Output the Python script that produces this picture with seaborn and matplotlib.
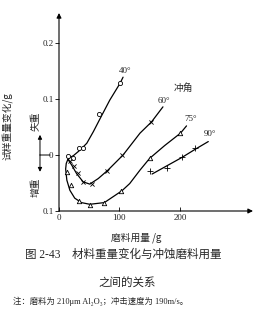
import numpy as np
import pandas as pd
import matplotlib
matplotlib.use('Agg')
import matplotlib.pyplot as plt
import seaborn as sns

# Values (abrasive mass in g, weight change in g)
# hand-drawn curves
curve_40_x = [15, 19, 24, 35, 46, 57, 68, 84, 101, 106]
curve_40_y = [-0.008, -0.004, -0.001, 0.009, 0.021, 0.042, 0.065, 0.098, 0.128, 0.139]
curve_60_x = [15, 21, 29, 40, 51, 65, 81, 106, 134, 153, 172]
curve_60_y = [-0.008, -0.018, -0.033, -0.048, -0.052, -0.042, -0.027, 0.0, 0.039, 0.059, 0.086]
curve_75_x = [15, 12, 11, 13, 18, 26, 37, 51, 75, 104, 117, 134, 150, 175, 201, 211]
curve_75_y = [-0.007, -0.015, -0.025, -0.045, -0.063, -0.077, -0.085, -0.088, -0.085,
              -0.064, -0.051, -0.027, -0.006, 0.017, 0.039, 0.052]
curve_90_x = [154, 179, 204, 225, 247]
curve_90_y = [-0.034, -0.019, -0.004, 0.010, 0.024]

# measured points
pts_40_x = [15, 23, 33, 40, 66, 101]
pts_40_y = [-0.002, -0.005, 0.013, 0.013, 0.074, 0.128]
pts_60_x = [18, 25, 31, 40, 54, 79, 105, 153]
pts_60_y = [-0.011, -0.020, -0.033, -0.048, -0.051, -0.029, 0.0, 0.059]
pts_75_x = [14, 20, 33, 51, 75, 103, 150, 201]
pts_75_y = [-0.030, -0.053, -0.082, -0.089, -0.085, -0.064, -0.005, 0.039]
pts_90_x = [151, 179, 204, 225]
pts_90_y = [-0.028, -0.024, -0.003, 0.012]

angle_labels = ['40°', '60°', '75°', '90°']
label_x = [109, 174, 218, 250]
label_y = [0.150, 0.096, 0.064, 0.038]

y_ticks = [-0.1, 0, 0.1, 0.2]
y_ticklabels = ['0.1', '0', '0.1', '0.2']
x_ticks = [0, 100, 200]

sns.set_theme(style='white')
plt.rcParams['font.family'] = ['Liberation Serif', 'DejaVu Serif', 'Noto Sans CJK SC']
plt.rcParams['axes.unicode_minus'] = False

fig = plt.figure(figsize=(2.8, 3.13), dpi=100)
ax = fig.add_axes([59 / 280, 1 - 211 / 313, 194 / 280, 198 / 313])

curves = [(curve_40_x, curve_40_y), (curve_60_x, curve_60_y),
          (curve_75_x, curve_75_y), (curve_90_x, curve_90_y)]
for cx, cy in curves:
    df = pd.DataFrame({'x': cx, 'y': cy})
    sns.lineplot(data=df, x='x', y='y', sort=False, estimator=None,
                 color='black', lw=0.9, ax=ax)

# markers
sns.scatterplot(x=pts_40_x, y=pts_40_y, marker='o', s=9, facecolor='white',
                edgecolor='black', linewidth=0.6, ax=ax, zorder=3)
sns.scatterplot(x=pts_60_x, y=pts_60_y, marker='x', s=9, color='black',
                linewidth=0.6, ax=ax, zorder=3)
sns.scatterplot(x=pts_75_x, y=pts_75_y, marker='^', s=10, facecolor='white',
                edgecolor='black', linewidth=0.6, ax=ax, zorder=3)
sns.scatterplot(x=pts_90_x, y=pts_90_y, marker='+', s=14, color='black',
                linewidth=0.6, ax=ax, zorder=3)

for lab, lx, ly in zip(angle_labels, label_x, label_y):
    ax.text(lx, ly, lab, fontsize=6.5, ha='center', va='center')
ax.text(206, 0.120, '冲角', fontsize=7, ha='center', va='center',
        family=['Noto Sans CJK SC'])

ax.set_xlim(0, 321)
ax.set_ylim(-0.1, 0.2536)
ax.set_xticks(x_ticks)
ax.set_xticklabels([str(t) for t in x_ticks])
ax.set_yticks(y_ticks)
ax.set_yticklabels(y_ticklabels)
ax.tick_params(axis='y', direction='out', length=3, width=0.7, pad=1, labelsize=6.5, left=True)
ax.tick_params(axis='x', direction='in', length=3, width=0.7, pad=2.5, labelsize=6.5, bottom=True)
for s in ax.spines.values():
    s.set_visible(False)

# axes with arrowheads
ax.annotate('', xy=(0, 1.0), xytext=(0, 0), xycoords='axes fraction',
            arrowprops=dict(arrowstyle='-|>', lw=0.8, color='black', mutation_scale=7,
                            shrinkA=0, shrinkB=0))
ax.annotate('', xy=(1.0, 0), xytext=(0, 0), xycoords='axes fraction',
            arrowprops=dict(arrowstyle='-|>', lw=0.8, color='black', mutation_scale=7,
                            shrinkA=0, shrinkB=0))

ax.set_xlabel('磨料用量 /g', fontsize=7, family=['Noto Sans CJK SC'])
ax.xaxis.set_label_coords(0.397, -0.11)
ax.set_ylabel('试样重量变化/g', fontsize=7, family=['Noto Sans CJK SC'])
ax.yaxis.set_label_coords(-0.237, 0.43)

# gain / loss indicator on the left
tr = ('axes fraction', 'data')
ax.annotate('', xy=(-0.098, 0.036), xytext=(-0.098, 0.0), xycoords=tr, textcoords=tr,
            arrowprops=dict(arrowstyle='-|>', lw=0.7, color='black', mutation_scale=6,
                            shrinkA=0, shrinkB=0))
ax.annotate('', xy=(-0.098, -0.030), xytext=(-0.098, 0.0), xycoords=tr, textcoords=tr,
            arrowprops=dict(arrowstyle='-|>', lw=0.7, color='black', mutation_scale=6,
                            shrinkA=0, shrinkB=0))
ax.annotate('', xy=(-0.046, 0.0), xytext=(-0.098, 0.0), xycoords=tr, textcoords=tr,
            arrowprops=dict(arrowstyle='-', lw=0.7, color='black', shrinkA=0, shrinkB=0))
ax.annotate('失重', xy=(-0.119, 0.061), xycoords=tr, fontsize=7, rotation=90,
            ha='center', va='center', family=['Noto Sans CJK SC'])
ax.annotate('增重', xy=(-0.119, -0.057), xycoords=tr, fontsize=7, rotation=90,
            ha='center', va='center', family=['Noto Sans CJK SC'])

# caption
fig.text(25 / 280, 1 - 255 / 313, '图 2-43    材料重量变化与冲蚀磨料用量', fontsize=8.3,
         ha='left', va='center')
fig.text(127 / 280, 1 - 282 / 313, '之间的关系', fontsize=8.3, ha='center', va='center',
         family=['Noto Sans CJK SC'])
fig.text(13 / 280, 1 - 301 / 313, '注：磨料为 210μm Al₂O₃；冲击速度为 190m/s。', fontsize=6,
         ha='left', va='center')

fig.savefig('out.png', dpi=100)
